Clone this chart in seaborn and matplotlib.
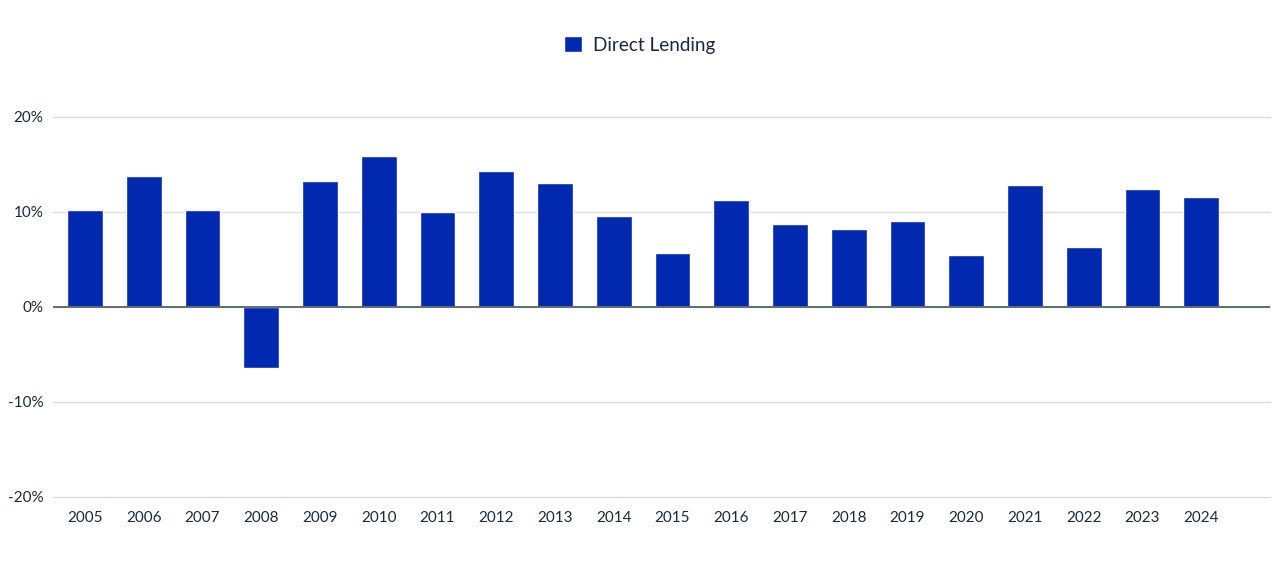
import pandas as pd
import seaborn as sns
import matplotlib.pyplot as plt

# data (annual returns, %)
years = [str(y) for y in range(2005, 2025)]
returns = [10.2, 13.8, 10.2, -6.4, 13.3, 15.9, 10.0, 14.3, 13.1, 9.6,
           5.7, 11.3, 8.7, 8.2, 9.1, 5.5, 12.8, 6.3, 12.4, 11.6]
y_ticks = [-20, -10, 0, 10, 20]
series_name = "Direct Lending"

df = pd.DataFrame({"Year": years, "Return": returns, "Series": series_name})

sns.set_theme(style="white")
plt.rcParams["font.family"] = ["Lato", "DejaVu Sans"]

BAR = "#0029b0"
TEXT = "#1b2a3a"

fig = plt.figure(figsize=(12.8, 5.72), dpi=100)
ax = fig.add_axes([53 / 1280, 1 - 497 / 572, (1270 - 53) / 1280, (497 - 117) / 572])

sns.barplot(data=df, x="Year", y="Return", hue="Series", palette=[BAR],
            width=0.61, ax=ax, legend=True, saturation=1)

ax.set_ylim(-20, 20)
ax.set_xlim(-0.545, 20.17)
ax.set_yticks(y_ticks)
ax.set_yticklabels([f"{t}%" for t in y_ticks])
ax.set_xlabel("")
ax.set_ylabel("")

ax.grid(axis="y", color="#dcdcdc", linewidth=1)
for gl in ax.get_ygridlines():
    gl.set_clip_on(False)
ax.set_axisbelow(True)
ax.axhline(0, color="#5f6e6e", linewidth=1.4, zorder=3)
for s in ax.spines.values():
    s.set_visible(False)

ax.tick_params(axis="x", length=0, pad=10, labelsize=11, labelcolor=TEXT)
ax.tick_params(axis="y", length=0, pad=7, labelsize=11, labelcolor=TEXT)

leg = ax.legend(loc="center", bbox_to_anchor=(0.5, 1 - 45 / 572), bbox_transform=fig.transFigure,
                frameon=False, fontsize=13.6, handlelength=0.95, handleheight=0.95,
                handletextpad=0.6)
for t in leg.get_texts():
    t.set_color(TEXT)

fig.savefig("out.png", dpi=100)
